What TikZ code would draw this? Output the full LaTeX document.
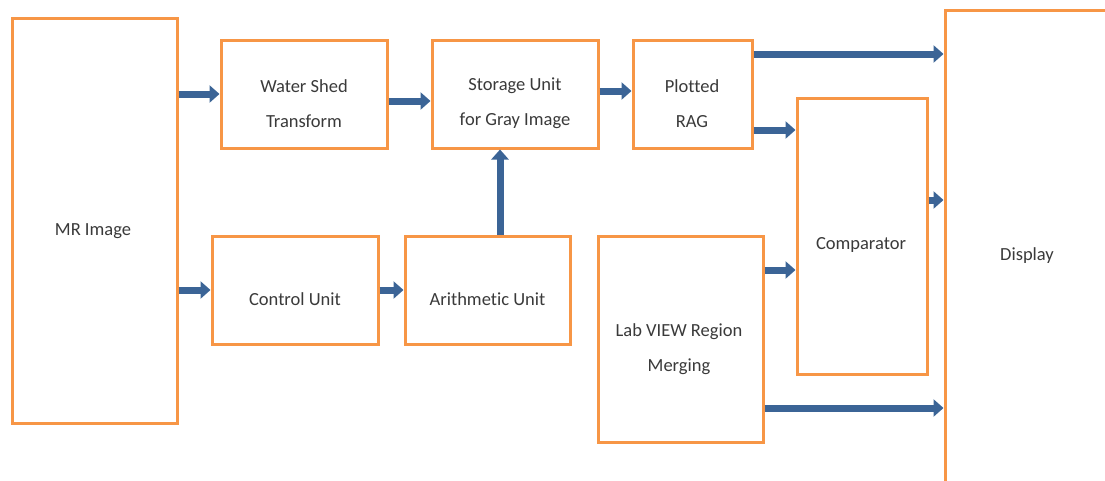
\documentclass[tikz,border=0pt]{standalone}
\usepackage{fontspec}
\setmainfont{Carlito}[Ligatures={NoCommon}]
\usetikzlibrary{arrows.meta}
\definecolor{boxorange}{HTML}{F79646}
\definecolor{arrblue}{HTML}{3B6496}
\definecolor{txtgrey}{HTML}{3A3A3A}
\begin{document}
\begin{tikzpicture}[x=1pt,y=-1pt,
  blk/.style={draw=boxorange, line width=3pt, rectangle, inner sep=0pt, fill=white},
  lbl/.style={text=txtgrey, font=\fontsize{18.5}{35}\selectfont, align=center, inner sep=0pt},
  arr/.style={draw=arrblue, line width=7pt, -{Triangle[length=10pt,width=17pt]}}]
\useasboundingbox (0,0) rectangle (1105,480);
\clip (0,0) rectangle (1105,480);
\fill[white] (0,0) rectangle (1105,480);
% boxes
\node[blk, minimum width=165pt, minimum height=405pt] (mr)  at (94.5,220.5) {};
\node[blk, minimum width=166pt, minimum height=108pt] (ws)  at (304,94) {};
\node[blk, minimum width=166pt, minimum height=108pt] (su)  at (515,94) {};
\node[blk, minimum width=119pt, minimum height=108pt] (rag) at (692.5,94) {};
\node[blk, minimum width=166pt, minimum height=108pt] (cu)  at (295,290) {};
\node[blk, minimum width=165pt, minimum height=108pt] (au)  at (487.5,290) {};
\node[blk, minimum width=165pt, minimum height=206pt] (lv)  at (680.5,339) {};
\node[blk, minimum width=130pt, minimum height=276pt] (cmp) at (862,236) {};
\node[blk, minimum width=170pt, minimum height=490pt] (dsp) at (1030,255) {};
% labels
\node[lbl] (tmr)  at (93,231) {MR Image};
\node[lbl] (tws)  at (304,103.5) {Water Shed\\Transform};
\node[lbl] (tsu)  at (515,103.5) {Storage Unit\\for Gray Image};
\node[lbl] (trag) at (692,103.5) {Plotted\\RAG};
\node[lbl] (tcu)  at (295,299) {Control Unit};
\node[lbl] (tau)  at (487.5,299) {Arithmetic Unit};
\node[lbl] (tlv)  at (679,349.5) {Lab VIEW Region\\Merging};
\node[lbl] (tcmp) at (861,245) {Comparator};
\node[lbl] (tdsp) at (1027,256) {Display};
% arrows
\draw[arr] (mr.east |- ws.west) -- (ws.west);
\draw[arr] (mr.east |- cu.west) -- (cu.west);
\draw[arr] ([yshift=-7pt]ws.east) -- ([yshift=-7pt]su.west);
\draw[arr] (cu.east) -- (au.west);
\draw[arr] ([xshift=12.5pt]au.north) -- ([xshift=12.5pt]au.north |- su.south);
\draw[arr] ([yshift=3pt]su.east) -- ([yshift=3pt]su.east -| rag.west);
\draw[arr] ([yshift=40pt]rag.east) -- ([yshift=40pt]rag.east -| dsp.west);
\draw[arr] ([yshift=-36pt]rag.east) -- ([yshift=-36pt]rag.east -| cmp.west);
\draw[arr] ([yshift=36pt]cmp.east) -- ([yshift=36pt]cmp.east -| dsp.west);
\draw[arr] ([yshift=69pt]lv.east) -- ([yshift=69pt]lv.east -| cmp.west);
\draw[arr] ([yshift=-69pt]lv.east) -- ([yshift=-69pt]lv.east -| dsp.west);
\end{tikzpicture}
\end{document}
